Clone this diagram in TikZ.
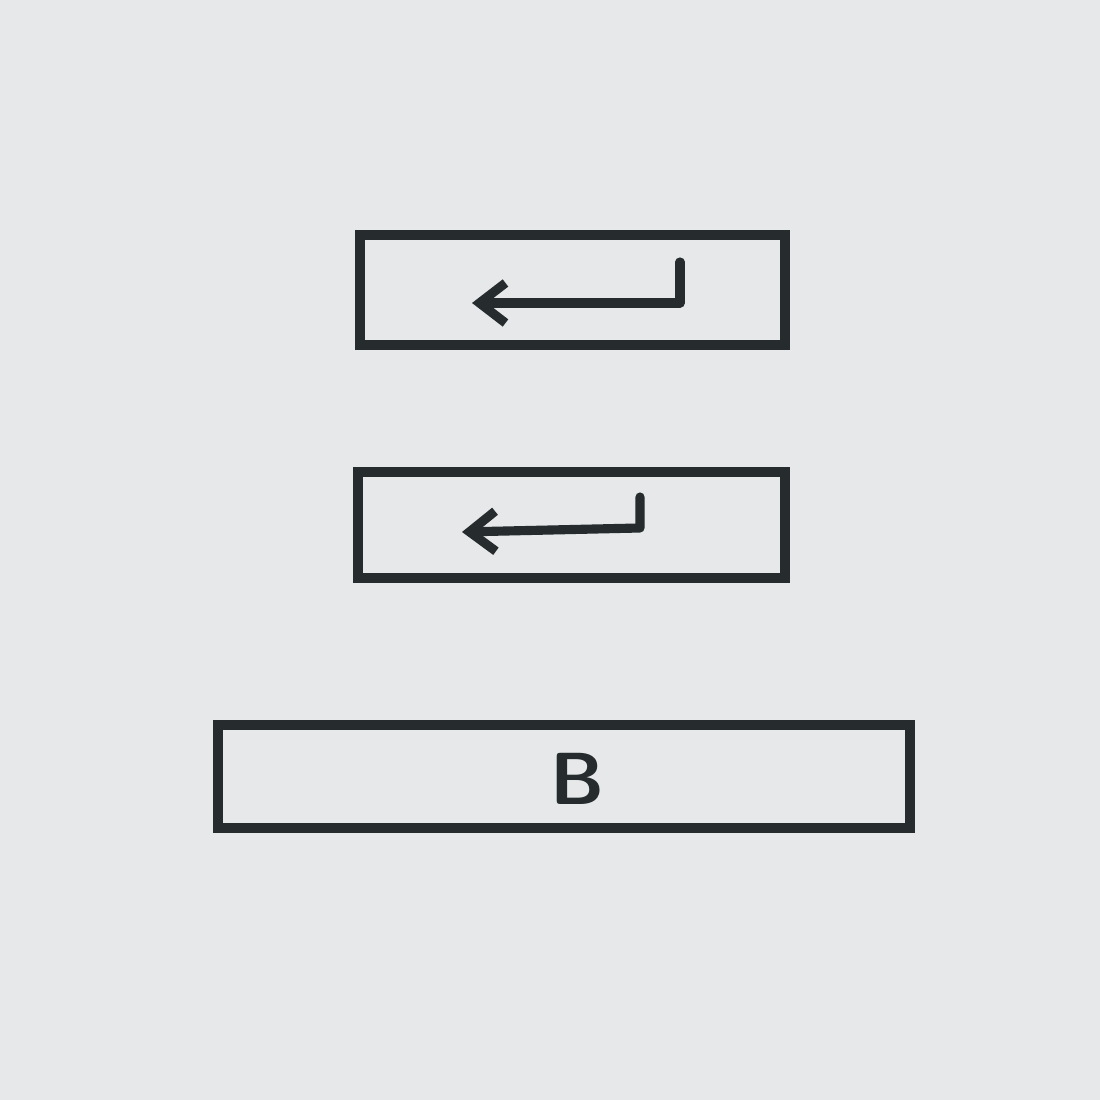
\documentclass[tikz,border=0pt]{standalone}
\usepackage{amsmath,amssymb}
\usepackage{tikz}
\usetikzlibrary{arrows.meta,calc}
\definecolor{paper}{HTML}{E6E8E9}
\definecolor{ink}{HTML}{262B2E}

\begin{document}
\begin{tikzpicture}[box/.style={draw=ink,line width=2.6pt,minimum width=#1,inner sep=0pt},
	ret/.style={draw=ink,line width=2.6pt,line cap=round,line join=round,-{Straight Barb[length=2.6mm,width=4mm,line width=2.6pt]}}]
				\fill[paper] (0,0) rectangle (11,11);
				\useasboundingbox (0,0) rectangle (11,11);
				\node[box=4.25cm,minimum height=1.1cm] (top) at (5.725,8.1) {};
				\node[box=4.27cm,minimum height=1.06cm] (mid) at (5.715,5.75) {};
				\node[box=6.92cm,minimum height=1.03cm] (base) at (5.64,3.235) {};
				\node[text=ink,font=\sffamily\bfseries\fontsize{21}{24}\selectfont] (blabel) at ($(base.center)+(0.14,-0.02)$) {B};
				\coordinate (t1) at (6.8,8.38); \coordinate (t2) at (6.8,7.97); \coordinate (t3) at (4.72,7.97);
				\coordinate (m1) at (6.4,6.03); \coordinate (m2) at (6.4,5.72); \coordinate (m3) at (4.62,5.68);
				\draw[ret] (t1) -- (t2) -- (t3);
				\draw[ret] (m1) -- (m2) -- (m3);
			\end{tikzpicture}
\end{document}
